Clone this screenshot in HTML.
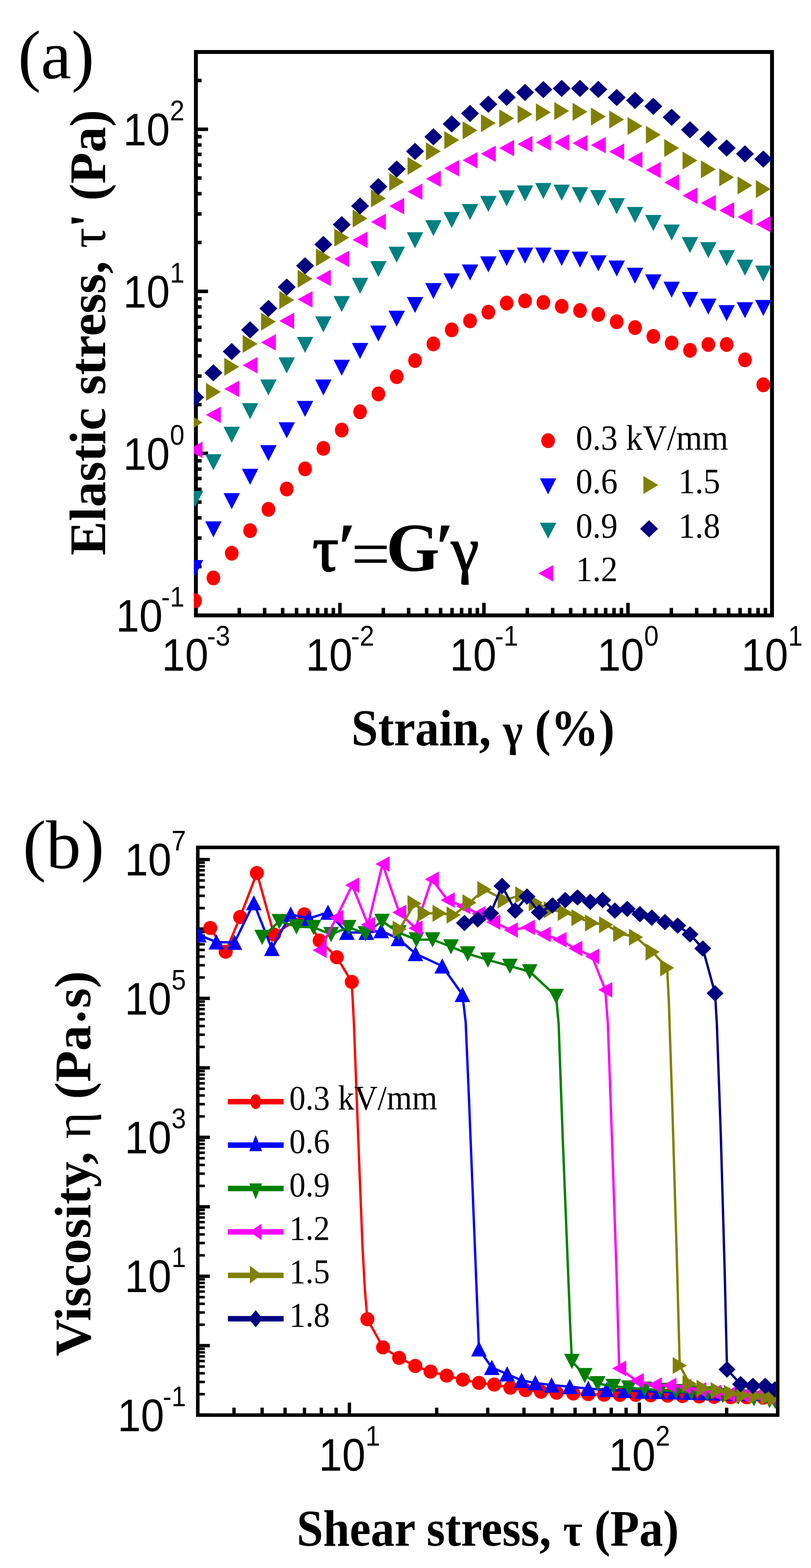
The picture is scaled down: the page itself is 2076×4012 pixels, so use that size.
<!DOCTYPE html>
<html><head><meta charset="utf-8"><title>Figure</title>
<style>html,body{margin:0;padding:0;background:#fff;width:2076px;height:4012px;}svg{display:block;}::-webkit-scrollbar{display:none;}</style>
</head><body>
<svg width="2076" height="4012" viewBox="0 0 2076 4012">
<rect width="2076" height="4012" fill="#fff"/>
<defs><clipPath id="ca"><rect x="496.5" y="128" width="1484.7" height="1451.6"/></clipPath><clipPath id="cb"><rect x="505.3" y="2172.7" width="1481" height="1443.6"/></clipPath></defs>
<text transform="translate(46 200)" font-family="'Liberation Serif', 'Times New Roman', serif" font-size="176" font-weight="normal" text-anchor="start">(a)</text>
<path d="M501.5 1574.6H532.5M501.5 1449.8H516M501.5 1376.8H516M501.5 1325H516M501.5 1284.8H516M501.5 1252H516M501.5 1224.2H516M501.5 1200.2H516M501.5 1179H516M501.5 1160H532.5M501.5 1035.2H516M501.5 962.2H516M501.5 910.4H516M501.5 870.2H516M501.5 837.4H516M501.5 809.6H516M501.5 785.6H516M501.5 764.4H516M501.5 745.4H532.5M501.5 620.6H516M501.5 547.6H516M501.5 495.8H516M501.5 455.6H516M501.5 422.8H516M501.5 395H516M501.5 371H516M501.5 349.8H516M501.5 330.8H532.5M501.5 206H516M501.5 1574.6V1542.6M612.5 1574.6V1555.6M677.4 1574.6V1555.6M723.5 1574.6V1555.6M759.2 1574.6V1555.6M788.4 1574.6V1555.6M813.1 1574.6V1555.6M834.4 1574.6V1555.6M853.3 1574.6V1555.6M870.2 1574.6V1542.6M981.2 1574.6V1555.6M1046.1 1574.6V1555.6M1092.1 1574.6V1555.6M1127.9 1574.6V1555.6M1157.1 1574.6V1555.6M1181.7 1574.6V1555.6M1203.1 1574.6V1555.6M1222 1574.6V1555.6M1238.8 1574.6V1542.6M1349.8 1574.6V1555.6M1414.8 1574.6V1555.6M1460.8 1574.6V1555.6M1496.5 1574.6V1555.6M1525.7 1574.6V1555.6M1550.4 1574.6V1555.6M1571.8 1574.6V1555.6M1590.7 1574.6V1555.6M1607.5 1574.6V1542.6M1718.5 1574.6V1555.6M1783.4 1574.6V1555.6M1829.5 1574.6V1555.6M1865.2 1574.6V1555.6M1894.4 1574.6V1555.6M1919.1 1574.6V1555.6M1940.5 1574.6V1555.6M1959.3 1574.6V1555.6M1976.2 1574.6V1542.6" stroke="#000" stroke-width="9" fill="none"/>
<rect x="501.5" y="133" width="1474.7" height="1441.6" fill="none" stroke="#000" stroke-width="10"/>
<text transform="translate(472 1616.1) scale(0.927 1)" font-family="'Liberation Sans', Arial, sans-serif" font-size="116" text-anchor="end">10<tspan font-size="72" dy="-64" dx="-4">-1</tspan></text>
<text transform="translate(472 1201.5) scale(0.927 1)" font-family="'Liberation Sans', Arial, sans-serif" font-size="116" text-anchor="end">10<tspan font-size="72" dy="-64">0</tspan></text>
<text transform="translate(472 786.9) scale(0.927 1)" font-family="'Liberation Sans', Arial, sans-serif" font-size="116" text-anchor="end">10<tspan font-size="72" dy="-64">1</tspan></text>
<text transform="translate(472 372.3) scale(0.927 1)" font-family="'Liberation Sans', Arial, sans-serif" font-size="116" text-anchor="end">10<tspan font-size="72" dy="-64">2</tspan></text>
<text transform="translate(501.5 1716.3) scale(0.927 1)" font-family="'Liberation Sans', Arial, sans-serif" font-size="116" text-anchor="middle">10<tspan font-size="72" dy="-64" dx="-4">-3</tspan></text>
<text transform="translate(870.2 1716.3) scale(0.927 1)" font-family="'Liberation Sans', Arial, sans-serif" font-size="116" text-anchor="middle">10<tspan font-size="72" dy="-64" dx="-4">-2</tspan></text>
<text transform="translate(1238.8 1716.3) scale(0.927 1)" font-family="'Liberation Sans', Arial, sans-serif" font-size="116" text-anchor="middle">10<tspan font-size="72" dy="-64" dx="-4">-1</tspan></text>
<text transform="translate(1607.5 1716.3) scale(0.927 1)" font-family="'Liberation Sans', Arial, sans-serif" font-size="116" text-anchor="middle">10<tspan font-size="72" dy="-64">0</tspan></text>
<text transform="translate(1976.2 1716.3) scale(0.927 1)" font-family="'Liberation Sans', Arial, sans-serif" font-size="116" text-anchor="middle">10<tspan font-size="72" dy="-64">1</tspan></text>
<text transform="translate(899.5 1907) scale(0.9284 1)" font-family="'Liberation Serif', 'Times New Roman', serif" font-size="132" font-weight="bold" text-anchor="start">Strain, <tspan font-size="117">&#947;</tspan> (%)</text>
<text transform="translate(268.5 1421) rotate(-90) scale(0.9910 1)" font-family="'Liberation Serif', 'Times New Roman', serif" font-size="132" font-weight="bold" text-anchor="start">Elastic stress, <tspan font-weight="normal">&#964;</tspan>' (Pa)</text>
<text y="1460" font-family="'Liberation Serif', 'Times New Roman', serif" font-size="176"><tspan x="800" font-size="166" stroke="#000" stroke-width="3.5">&#964;</tspan><tspan x="863.4" font-weight="bold">&#8242;</tspan><tspan x="899.2" y="1476">=</tspan><tspan x="988.6" y="1460" font-weight="bold">G</tspan><tspan x="1113.4" font-weight="bold">&#8242;</tspan><tspan x="1155" y="1461" font-size="160" stroke="#000" stroke-width="3">&#947;</tspan></text>
<g clip-path="url(#ca)">
<ellipse cx="499.4" cy="1537.3" rx="17.5" ry="19" fill="#ff0000"/>
<ellipse cx="546.3" cy="1478.8" rx="17.5" ry="19" fill="#ff0000"/>
<ellipse cx="593.2" cy="1415.6" rx="17.5" ry="19" fill="#ff0000"/>
<ellipse cx="640.2" cy="1357.8" rx="17.5" ry="19" fill="#ff0000"/>
<ellipse cx="687.1" cy="1303.2" rx="17.5" ry="19" fill="#ff0000"/>
<ellipse cx="734" cy="1251.3" rx="17.5" ry="19" fill="#ff0000"/>
<ellipse cx="780.9" cy="1199.8" rx="17.5" ry="19" fill="#ff0000"/>
<ellipse cx="827.8" cy="1147.2" rx="17.5" ry="19" fill="#ff0000"/>
<ellipse cx="874.8" cy="1100.4" rx="17.5" ry="19" fill="#ff0000"/>
<ellipse cx="921.7" cy="1053.6" rx="17.5" ry="19" fill="#ff0000"/>
<ellipse cx="968.6" cy="1007.9" rx="17.5" ry="19" fill="#ff0000"/>
<ellipse cx="1015.5" cy="963.7" rx="17.5" ry="19" fill="#ff0000"/>
<ellipse cx="1062.4" cy="922.5" rx="17.5" ry="19" fill="#ff0000"/>
<ellipse cx="1109.4" cy="880" rx="17.5" ry="19" fill="#ff0000"/>
<ellipse cx="1156.3" cy="844" rx="17.5" ry="19" fill="#ff0000"/>
<ellipse cx="1203.2" cy="821" rx="17.5" ry="19" fill="#ff0000"/>
<ellipse cx="1250.1" cy="798.7" rx="17.5" ry="19" fill="#ff0000"/>
<ellipse cx="1297" cy="775.6" rx="17.5" ry="19" fill="#ff0000"/>
<ellipse cx="1344" cy="769.8" rx="17.5" ry="19" fill="#ff0000"/>
<ellipse cx="1390.9" cy="773.9" rx="17.5" ry="19" fill="#ff0000"/>
<ellipse cx="1437.8" cy="783.8" rx="17.5" ry="19" fill="#ff0000"/>
<ellipse cx="1484.7" cy="794.6" rx="17.5" ry="19" fill="#ff0000"/>
<ellipse cx="1531.6" cy="804.5" rx="17.5" ry="19" fill="#ff0000"/>
<ellipse cx="1578.6" cy="823.3" rx="17.5" ry="19" fill="#ff0000"/>
<ellipse cx="1625.5" cy="838.3" rx="17.5" ry="19" fill="#ff0000"/>
<ellipse cx="1672.4" cy="860.8" rx="17.5" ry="19" fill="#ff0000"/>
<ellipse cx="1719.3" cy="877.7" rx="17.5" ry="19" fill="#ff0000"/>
<ellipse cx="1766.2" cy="896.4" rx="17.5" ry="19" fill="#ff0000"/>
<ellipse cx="1813.2" cy="881.4" rx="17.5" ry="19" fill="#ff0000"/>
<ellipse cx="1860.1" cy="881.4" rx="17.5" ry="19" fill="#ff0000"/>
<ellipse cx="1907" cy="920.8" rx="17.5" ry="19" fill="#ff0000"/>
<ellipse cx="1953.9" cy="984.6" rx="17.5" ry="19" fill="#ff0000"/>
<polygon points="478.4,1433 520.4,1433 499.4,1474" fill="#0000ff"/>
<polygon points="525.3,1334 567.3,1334 546.3,1375" fill="#0000ff"/>
<polygon points="572.2,1261.8 614.2,1261.8 593.2,1302.8" fill="#0000ff"/>
<polygon points="619.2,1199.4 661.2,1199.4 640.2,1240.4" fill="#0000ff"/>
<polygon points="666.1,1138.9 708.1,1138.9 687.1,1179.9" fill="#0000ff"/>
<polygon points="713,1080.4 755,1080.4 734,1121.4" fill="#0000ff"/>
<polygon points="759.9,1025.8 801.9,1025.8 780.9,1066.8" fill="#0000ff"/>
<polygon points="806.8,971.1 848.8,971.1 827.8,1012.1" fill="#0000ff"/>
<polygon points="853.8,920.4 895.8,920.4 874.8,961.4" fill="#0000ff"/>
<polygon points="900.7,877.5 942.7,877.5 921.7,918.5" fill="#0000ff"/>
<polygon points="947.6,833 989.6,833 968.6,874" fill="#0000ff"/>
<polygon points="994.5,795 1036.5,795 1015.5,836" fill="#0000ff"/>
<polygon points="1041.4,760 1083.4,760 1062.4,801" fill="#0000ff"/>
<polygon points="1088.4,724.2 1130.4,724.2 1109.4,765.2" fill="#0000ff"/>
<polygon points="1135.3,699.4 1177.3,699.4 1156.3,740.4" fill="#0000ff"/>
<polygon points="1182.2,676.7 1224.2,676.7 1203.2,717.7" fill="#0000ff"/>
<polygon points="1229.1,656 1271.1,656 1250.1,697" fill="#0000ff"/>
<polygon points="1276,639.6 1318,639.6 1297,680.6" fill="#0000ff"/>
<polygon points="1323,633.4 1365,633.4 1344,674.4" fill="#0000ff"/>
<polygon points="1369.9,633.4 1411.9,633.4 1390.9,674.4" fill="#0000ff"/>
<polygon points="1416.8,639.6 1458.8,639.6 1437.8,680.6" fill="#0000ff"/>
<polygon points="1463.7,643.7 1505.7,643.7 1484.7,684.7" fill="#0000ff"/>
<polygon points="1510.6,653.2 1552.6,653.2 1531.6,694.2" fill="#0000ff"/>
<polygon points="1557.6,666.4 1599.6,666.4 1578.6,707.4" fill="#0000ff"/>
<polygon points="1604.5,685.1 1646.5,685.1 1625.5,726.1" fill="#0000ff"/>
<polygon points="1651.4,702 1693.4,702 1672.4,743" fill="#0000ff"/>
<polygon points="1698.3,720.8 1740.3,720.8 1719.3,761.8" fill="#0000ff"/>
<polygon points="1745.2,747 1787.2,747 1766.2,788" fill="#0000ff"/>
<polygon points="1792.2,763.9 1834.2,763.9 1813.2,804.9" fill="#0000ff"/>
<polygon points="1839.1,780.8 1881.1,780.8 1860.1,821.8" fill="#0000ff"/>
<polygon points="1886,773.3 1928,773.3 1907,814.3" fill="#0000ff"/>
<polygon points="1932.9,767.6 1974.9,767.6 1953.9,808.6" fill="#0000ff"/>
<polygon points="478.4,1256 520.4,1256 499.4,1297" fill="#008080"/>
<polygon points="525.3,1162.3 567.3,1162.3 546.3,1203.3" fill="#008080"/>
<polygon points="572.2,1092 614.2,1092 593.2,1133" fill="#008080"/>
<polygon points="619.2,1031.6 661.2,1031.6 640.2,1072.6" fill="#008080"/>
<polygon points="666.1,971.1 708.1,971.1 687.1,1012.1" fill="#008080"/>
<polygon points="713,914.6 755,914.6 734,955.6" fill="#008080"/>
<polygon points="759.9,861.9 801.9,861.9 780.9,902.9" fill="#008080"/>
<polygon points="806.8,809.5 848.8,809.5 827.8,850.5" fill="#008080"/>
<polygon points="853.8,757.6 895.8,757.6 874.8,798.6" fill="#008080"/>
<polygon points="900.7,710.7 942.7,710.7 921.7,751.7" fill="#008080"/>
<polygon points="947.6,668 989.6,668 968.6,709" fill="#008080"/>
<polygon points="994.5,631.3 1036.5,631.3 1015.5,672.3" fill="#008080"/>
<polygon points="1041.4,594.2 1083.4,594.2 1062.4,635.2" fill="#008080"/>
<polygon points="1088.4,563.2 1130.4,563.2 1109.4,604.2" fill="#008080"/>
<polygon points="1135.3,542.6 1177.3,542.6 1156.3,583.6" fill="#008080"/>
<polygon points="1182.2,522 1224.2,522 1203.2,563" fill="#008080"/>
<polygon points="1229.1,501.3 1271.1,501.3 1250.1,542.3" fill="#008080"/>
<polygon points="1276,486.9 1318,486.9 1297,527.9" fill="#008080"/>
<polygon points="1323,474.5 1365,474.5 1344,515.5" fill="#008080"/>
<polygon points="1369.9,468.3 1411.9,468.3 1390.9,509.3" fill="#008080"/>
<polygon points="1416.8,472.5 1458.8,472.5 1437.8,513.5" fill="#008080"/>
<polygon points="1463.7,478.7 1505.7,478.7 1484.7,519.7" fill="#008080"/>
<polygon points="1510.6,486.3 1552.6,486.3 1531.6,527.3" fill="#008080"/>
<polygon points="1557.6,507 1599.6,507 1578.6,548" fill="#008080"/>
<polygon points="1604.5,529.5 1646.5,529.5 1625.5,570.5" fill="#008080"/>
<polygon points="1651.4,550.1 1693.4,550.1 1672.4,591.1" fill="#008080"/>
<polygon points="1698.3,574.5 1740.3,574.5 1719.3,615.5" fill="#008080"/>
<polygon points="1745.2,606.4 1787.2,606.4 1766.2,647.4" fill="#008080"/>
<polygon points="1792.2,619.5 1834.2,619.5 1813.2,660.5" fill="#008080"/>
<polygon points="1839.1,640.1 1881.1,640.1 1860.1,681.1" fill="#008080"/>
<polygon points="1886,664.5 1928,664.5 1907,705.5" fill="#008080"/>
<polygon points="1932.9,679.5 1974.9,679.5 1953.9,720.5" fill="#008080"/>
<polygon points="518.4,1130 518.4,1172 480.4,1151" fill="#ff00ff"/>
<polygon points="565.3,1040.4 565.3,1082.4 527.3,1061.4" fill="#ff00ff"/>
<polygon points="612.2,974 612.2,1016 574.2,995" fill="#ff00ff"/>
<polygon points="659.2,913.6 659.2,955.6 621.2,934.6" fill="#ff00ff"/>
<polygon points="706.1,855 706.1,897 668.1,876" fill="#ff00ff"/>
<polygon points="753,800 753,842 715,821" fill="#ff00ff"/>
<polygon points="799.9,744.9 799.9,786.9 761.9,765.9" fill="#ff00ff"/>
<polygon points="846.8,690.2 846.8,732.2 808.8,711.2" fill="#ff00ff"/>
<polygon points="893.8,641.5 893.8,683.5 855.8,662.5" fill="#ff00ff"/>
<polygon points="940.7,592.7 940.7,634.7 902.7,613.7" fill="#ff00ff"/>
<polygon points="987.6,546.8 987.6,588.8 949.6,567.8" fill="#ff00ff"/>
<polygon points="1034.5,506.5 1034.5,548.5 996.5,527.5" fill="#ff00ff"/>
<polygon points="1081.4,469.4 1081.4,511.4 1043.4,490.4" fill="#ff00ff"/>
<polygon points="1128.4,436.4 1128.4,478.4 1090.4,457.4" fill="#ff00ff"/>
<polygon points="1175.3,409.6 1175.3,451.6 1137.3,430.6" fill="#ff00ff"/>
<polygon points="1222.2,389 1222.2,431 1184.2,410" fill="#ff00ff"/>
<polygon points="1269.1,372.4 1269.1,414.4 1231.1,393.4" fill="#ff00ff"/>
<polygon points="1316,358 1316,400 1278,379" fill="#ff00ff"/>
<polygon points="1363,347.7 1363,389.7 1325,368.7" fill="#ff00ff"/>
<polygon points="1409.9,343.6 1409.9,385.6 1371.9,364.6" fill="#ff00ff"/>
<polygon points="1456.8,343.6 1456.8,385.6 1418.8,364.6" fill="#ff00ff"/>
<polygon points="1503.7,345.6 1503.7,387.6 1465.7,366.6" fill="#ff00ff"/>
<polygon points="1550.6,350.3 1550.6,392.3 1512.6,371.3" fill="#ff00ff"/>
<polygon points="1597.6,367.2 1597.6,409.2 1559.6,388.2" fill="#ff00ff"/>
<polygon points="1644.5,387.8 1644.5,429.8 1606.5,408.8" fill="#ff00ff"/>
<polygon points="1691.4,414.1 1691.4,456.1 1653.4,435.1" fill="#ff00ff"/>
<polygon points="1738.3,445.9 1738.3,487.9 1700.3,466.9" fill="#ff00ff"/>
<polygon points="1785.2,479.7 1785.2,521.7 1747.2,500.7" fill="#ff00ff"/>
<polygon points="1832.2,498.5 1832.2,540.5 1794.2,519.5" fill="#ff00ff"/>
<polygon points="1879.1,517.2 1879.1,559.2 1841.1,538.2" fill="#ff00ff"/>
<polygon points="1926,534.1 1926,576.1 1888,555.1" fill="#ff00ff"/>
<polygon points="1972.9,552.8 1972.9,594.8 1934.9,573.8" fill="#ff00ff"/>
<polygon points="480.4,1057.9 480.4,1103.9 518.4,1080.9" fill="#808000"/>
<polygon points="527.3,979.8 527.3,1025.8 565.3,1002.8" fill="#808000"/>
<polygon points="574.2,915.5 574.2,961.5 612.2,938.5" fill="#808000"/>
<polygon points="621.2,857 621.2,903 659.2,880" fill="#808000"/>
<polygon points="668.1,799.9 668.1,845.9 706.1,822.9" fill="#808000"/>
<polygon points="715,744.8 715,790.8 753,767.8" fill="#808000"/>
<polygon points="761.9,690.2 761.9,736.2 799.9,713.2" fill="#808000"/>
<polygon points="808.8,635.6 808.8,681.6 846.8,658.6" fill="#808000"/>
<polygon points="855.8,584.9 855.8,630.9 893.8,607.9" fill="#808000"/>
<polygon points="902.7,536.1 902.7,582.1 940.7,559.1" fill="#808000"/>
<polygon points="949.6,484.6 949.6,530.6 987.6,507.6" fill="#808000"/>
<polygon points="996.5,442.6 996.5,488.6 1034.5,465.6" fill="#808000"/>
<polygon points="1043.4,401.4 1043.4,447.4 1081.4,424.4" fill="#808000"/>
<polygon points="1090.4,364.2 1090.4,410.2 1128.4,387.2" fill="#808000"/>
<polygon points="1137.3,335.4 1137.3,381.4 1175.3,358.4" fill="#808000"/>
<polygon points="1184.2,310.6 1184.2,356.6 1222.2,333.6" fill="#808000"/>
<polygon points="1231.1,292 1231.1,338 1269.1,315" fill="#808000"/>
<polygon points="1278,279.7 1278,325.7 1316,302.7" fill="#808000"/>
<polygon points="1325,269.3 1325,315.3 1363,292.3" fill="#808000"/>
<polygon points="1371.9,264.4 1371.9,310.4 1409.9,287.4" fill="#808000"/>
<polygon points="1418.8,261.1 1418.8,307.1 1456.8,284.1" fill="#808000"/>
<polygon points="1465.7,263 1465.7,309 1503.7,286" fill="#808000"/>
<polygon points="1512.6,275.2 1512.6,321.2 1550.6,298.2" fill="#808000"/>
<polygon points="1559.6,282.7 1559.6,328.7 1597.6,305.7" fill="#808000"/>
<polygon points="1606.5,299.5 1606.5,345.5 1644.5,322.5" fill="#808000"/>
<polygon points="1653.4,322 1653.4,368 1691.4,345" fill="#808000"/>
<polygon points="1700.3,355.8 1700.3,401.8 1738.3,378.8" fill="#808000"/>
<polygon points="1747.2,387.7 1747.2,433.7 1785.2,410.7" fill="#808000"/>
<polygon points="1794.2,410.2 1794.2,456.2 1832.2,433.2" fill="#808000"/>
<polygon points="1841.1,430.8 1841.1,476.8 1879.1,453.8" fill="#808000"/>
<polygon points="1888,451.4 1888,497.4 1926,474.4" fill="#808000"/>
<polygon points="1934.9,460.8 1934.9,506.8 1972.9,483.8" fill="#808000"/>
<polygon points="499.4,994.5 522.4,1016.5 499.4,1038.5 476.4,1016.5" fill="#000080"/>
<polygon points="546.3,932 569.3,954 546.3,976 523.3,954" fill="#000080"/>
<polygon points="593.2,877.5 616.2,899.5 593.2,921.5 570.2,899.5" fill="#000080"/>
<polygon points="640.2,822 663.2,844 640.2,866 617.2,844" fill="#000080"/>
<polygon points="687.1,767.3 710.1,789.3 687.1,811.3 664.1,789.3" fill="#000080"/>
<polygon points="734,712.6 757,734.6 734,756.6 711,734.6" fill="#000080"/>
<polygon points="780.9,658 803.9,680 780.9,702 757.9,680" fill="#000080"/>
<polygon points="827.8,603.4 850.8,625.4 827.8,647.4 804.8,625.4" fill="#000080"/>
<polygon points="874.8,552.7 897.8,574.7 874.8,596.7 851.8,574.7" fill="#000080"/>
<polygon points="921.7,505.1 944.7,527.1 921.7,549.1 898.7,527.1" fill="#000080"/>
<polygon points="968.6,455.6 991.6,477.6 968.6,499.6 945.6,477.6" fill="#000080"/>
<polygon points="1015.5,410.6 1038.5,432.6 1015.5,454.6 992.5,432.6" fill="#000080"/>
<polygon points="1062.4,365.2 1085.4,387.2 1062.4,409.2 1039.4,387.2" fill="#000080"/>
<polygon points="1109.4,328.1 1132.4,350.1 1109.4,372.1 1086.4,350.1" fill="#000080"/>
<polygon points="1156.3,295.1 1179.3,317.1 1156.3,339.1 1133.3,317.1" fill="#000080"/>
<polygon points="1203.2,268.3 1226.2,290.3 1203.2,312.3 1180.2,290.3" fill="#000080"/>
<polygon points="1250.1,244.8 1273.1,266.8 1250.1,288.8 1227.1,266.8" fill="#000080"/>
<polygon points="1297,227 1320,249 1297,271 1274,249" fill="#000080"/>
<polygon points="1344,214.6 1367,236.6 1344,258.6 1321,236.6" fill="#000080"/>
<polygon points="1390.9,207.2 1413.9,229.2 1390.9,251.2 1367.9,229.2" fill="#000080"/>
<polygon points="1437.8,204.3 1460.8,226.3 1437.8,248.3 1414.8,226.3" fill="#000080"/>
<polygon points="1484.7,204.3 1507.7,226.3 1484.7,248.3 1461.7,226.3" fill="#000080"/>
<polygon points="1531.6,206.8 1554.6,228.8 1531.6,250.8 1508.6,228.8" fill="#000080"/>
<polygon points="1578.6,227.4 1601.6,249.4 1578.6,271.4 1555.6,249.4" fill="#000080"/>
<polygon points="1625.5,234.9 1648.5,256.9 1625.5,278.9 1602.5,256.9" fill="#000080"/>
<polygon points="1672.4,249.9 1695.4,271.9 1672.4,293.9 1649.4,271.9" fill="#000080"/>
<polygon points="1719.3,278 1742.3,300 1719.3,322 1696.3,300" fill="#000080"/>
<polygon points="1766.2,309.9 1789.2,331.9 1766.2,353.9 1743.2,331.9" fill="#000080"/>
<polygon points="1813.2,334.3 1836.2,356.3 1813.2,378.3 1790.2,356.3" fill="#000080"/>
<polygon points="1860.1,356.8 1883.1,378.8 1860.1,400.8 1837.1,378.8" fill="#000080"/>
<polygon points="1907,371.8 1930,393.8 1907,415.8 1884,393.8" fill="#000080"/>
<polygon points="1953.9,384.9 1976.9,406.9 1953.9,428.9 1930.9,406.9" fill="#000080"/>
</g>
<ellipse cx="1403" cy="1127.6" rx="17.5" ry="19" fill="#ff0000"/>
<polygon points="1382,1224 1424,1224 1403,1265" fill="#0000ff"/>
<polygon points="1382,1337.6 1424,1337.6 1403,1378.6" fill="#008080"/>
<polygon points="1416,1446 1416,1488 1378,1467" fill="#ff00ff"/>
<polygon points="1647,1218 1647,1264 1685,1241" fill="#808000"/>
<polygon points="1661.5,1331 1684.5,1353 1661.5,1375 1638.5,1353" fill="#000080"/>
<text transform="translate(1474 1150.5) scale(0.9310 1)" font-family="'Liberation Serif', 'Times New Roman', serif" font-size="92" font-weight="normal" text-anchor="start">0.3 kV/mm</text>
<text transform="translate(1474 1262) scale(0.9310 1)" font-family="'Liberation Serif', 'Times New Roman', serif" font-size="92" font-weight="normal" text-anchor="start">0.6</text>
<text transform="translate(1474 1375.5) scale(0.9310 1)" font-family="'Liberation Serif', 'Times New Roman', serif" font-size="92" font-weight="normal" text-anchor="start">0.9</text>
<text transform="translate(1474 1487.4) scale(0.9310 1)" font-family="'Liberation Serif', 'Times New Roman', serif" font-size="92" font-weight="normal" text-anchor="start">1.2</text>
<text transform="translate(1736.5 1262) scale(0.9310 1)" font-family="'Liberation Serif', 'Times New Roman', serif" font-size="92" font-weight="normal" text-anchor="start">1.5</text>
<text transform="translate(1736.5 1375.5) scale(0.9310 1)" font-family="'Liberation Serif', 'Times New Roman', serif" font-size="92" font-weight="normal" text-anchor="start">1.8</text>
<text transform="translate(58.2 2221.3) scale(1.0170 1)" font-family="'Liberation Serif', 'Times New Roman', serif" font-size="176" font-weight="normal" text-anchor="start">(b)</text>
<path d="M506.3 3620.8H537.3M506.3 3443.1H537.3M506.3 3265.4H537.3M506.3 3087.7H537.3M506.3 2910H537.3M506.3 2732.3H537.3M506.3 2554.6H537.3M506.3 2376.9H537.3M506.3 2199.2H537.3M599 3620.8V3601.8M671 3620.8V3601.8M729.7 3620.8V3601.8M779.4 3620.8V3601.8M822.5 3620.8V3601.8M860.4 3620.8V3601.8M1117.8 3620.8V3601.8M1248.5 3620.8V3601.8M1341.3 3620.8V3601.8M1413.2 3620.8V3601.8M1472 3620.8V3601.8M1521.7 3620.8V3601.8M1564.7 3620.8V3601.8M1602.7 3620.8V3601.8M1860.1 3620.8V3601.8M894.4 3620.8V3588.8M1636.7 3620.8V3588.8" stroke="#000" stroke-width="8.5" fill="none"/>
<path d="M506.3 3567.3H524.3M506.3 3536H524.3M506.3 3513.8H524.3M506.3 3496.6H524.3M506.3 3482.5H524.3M506.3 3470.6H524.3M506.3 3460.3H524.3M506.3 3451.2H524.3M506.3 3389.6H524.3M506.3 3358.3H524.3M506.3 3336.1H524.3M506.3 3318.9H524.3M506.3 3304.8H524.3M506.3 3292.9H524.3M506.3 3282.6H524.3M506.3 3273.5H524.3M506.3 3211.9H524.3M506.3 3180.6H524.3M506.3 3158.4H524.3M506.3 3141.2H524.3M506.3 3127.1H524.3M506.3 3115.2H524.3M506.3 3104.9H524.3M506.3 3095.8H524.3M506.3 3034.2H524.3M506.3 3002.9H524.3M506.3 2980.7H524.3M506.3 2963.5H524.3M506.3 2949.4H524.3M506.3 2937.5H524.3M506.3 2927.2H524.3M506.3 2918.1H524.3M506.3 2856.5H524.3M506.3 2825.2H524.3M506.3 2803H524.3M506.3 2785.8H524.3M506.3 2771.7H524.3M506.3 2759.8H524.3M506.3 2749.5H524.3M506.3 2740.4H524.3M506.3 2678.8H524.3M506.3 2647.5H524.3M506.3 2625.3H524.3M506.3 2608.1H524.3M506.3 2594H524.3M506.3 2582.1H524.3M506.3 2571.8H524.3M506.3 2562.7H524.3M506.3 2501.1H524.3M506.3 2469.8H524.3M506.3 2447.6H524.3M506.3 2430.4H524.3M506.3 2416.3H524.3M506.3 2404.4H524.3M506.3 2394.1H524.3M506.3 2385H524.3M506.3 2323.4H524.3M506.3 2292.1H524.3M506.3 2269.9H524.3M506.3 2252.7H524.3M506.3 2238.6H524.3M506.3 2226.7H524.3M506.3 2216.4H524.3M506.3 2207.3H524.3" stroke="#000" stroke-width="6.5" fill="none"/>
<rect x="506.3" y="2168.2" width="1484.5" height="1452.6" fill="none" stroke="#000" stroke-width="9"/>
<text transform="translate(476 3661.8) scale(0.927 1)" font-family="'Liberation Sans', Arial, sans-serif" font-size="116" text-anchor="end">10<tspan font-size="72" dy="-64" dx="-4">-1</tspan></text>
<text transform="translate(476 3306.4) scale(0.927 1)" font-family="'Liberation Sans', Arial, sans-serif" font-size="116" text-anchor="end">10<tspan font-size="72" dy="-64">1</tspan></text>
<text transform="translate(476 2951) scale(0.927 1)" font-family="'Liberation Sans', Arial, sans-serif" font-size="116" text-anchor="end">10<tspan font-size="72" dy="-64">3</tspan></text>
<text transform="translate(476 2595.6) scale(0.927 1)" font-family="'Liberation Sans', Arial, sans-serif" font-size="116" text-anchor="end">10<tspan font-size="72" dy="-64">5</tspan></text>
<text transform="translate(476 2240.2) scale(0.927 1)" font-family="'Liberation Sans', Arial, sans-serif" font-size="116" text-anchor="end">10<tspan font-size="72" dy="-64">7</tspan></text>
<text transform="translate(894.4 3762.6) scale(0.927 1)" font-family="'Liberation Sans', Arial, sans-serif" font-size="116" text-anchor="middle">10<tspan font-size="72" dy="-64">1</tspan></text>
<text transform="translate(1636.7 3762.6) scale(0.927 1)" font-family="'Liberation Sans', Arial, sans-serif" font-size="116" text-anchor="middle">10<tspan font-size="72" dy="-64">2</tspan></text>
<text transform="translate(759.5 3955) scale(0.9222 1)" font-family="'Liberation Serif', 'Times New Roman', serif" font-size="132" font-weight="bold" text-anchor="start">Shear stress, <tspan font-size="117">&#964;</tspan> (Pa)</text>
<text transform="translate(231 3470.3) rotate(-90) scale(0.9940 1)" font-family="'Liberation Serif', 'Times New Roman', serif" font-size="132" font-weight="bold" text-anchor="start">Viscosity, <tspan font-weight="normal">&#951;</tspan> (Pa<tspan dy="21">&#183;</tspan><tspan dy="-21">s</tspan>)</text>
<g clip-path="url(#cb)">
<polyline points="538.3,2374.4 577.6,2435.2 614.8,2346.3 657.6,2233.8 701.4,2391.3 779.1,2339.5 818.3,2406.6 862.2,2449.3 900.4,2512.4 906,2620 912,2780 920,2990 928,3190 934,3300 940.4,3375.4 980.5,3447.6 1021.7,3474.4 1063,3495 1102.2,3509.5 1143.4,3519.8 1184.7,3530.1 1226,3538.4 1265.2,3542.5 1306.4,3550.7 1345.6,3556.9 1384.8,3561.1 1424.8,3563.5 1467.5,3565.5 1505.8,3567 1546.3,3568.5 1586.8,3569 1627.3,3569 1665.6,3570 1709,3571 1747,3572 1790,3573 1828,3574 1871,3575 1911,3575 1954,3576 1983,3576" fill="none" stroke="#ff0000" stroke-width="6" stroke-linejoin="round"/>
<circle cx="538.3" cy="2374.4" r="18" fill="#ff0000"/>
<circle cx="577.6" cy="2435.2" r="18" fill="#ff0000"/>
<circle cx="614.8" cy="2346.3" r="18" fill="#ff0000"/>
<circle cx="657.6" cy="2233.8" r="18" fill="#ff0000"/>
<circle cx="701.4" cy="2391.3" r="18" fill="#ff0000"/>
<circle cx="779.1" cy="2339.5" r="18" fill="#ff0000"/>
<circle cx="818.3" cy="2406.6" r="18" fill="#ff0000"/>
<circle cx="862.2" cy="2449.3" r="18" fill="#ff0000"/>
<circle cx="900.4" cy="2512.4" r="18" fill="#ff0000"/>
<circle cx="940.4" cy="3375.4" r="18" fill="#ff0000"/>
<circle cx="980.5" cy="3447.6" r="18" fill="#ff0000"/>
<circle cx="1021.7" cy="3474.4" r="18" fill="#ff0000"/>
<circle cx="1063" cy="3495" r="18" fill="#ff0000"/>
<circle cx="1102.2" cy="3509.5" r="18" fill="#ff0000"/>
<circle cx="1143.4" cy="3519.8" r="18" fill="#ff0000"/>
<circle cx="1184.7" cy="3530.1" r="18" fill="#ff0000"/>
<circle cx="1226" cy="3538.4" r="18" fill="#ff0000"/>
<circle cx="1265.2" cy="3542.5" r="18" fill="#ff0000"/>
<circle cx="1306.4" cy="3550.7" r="18" fill="#ff0000"/>
<circle cx="1345.6" cy="3556.9" r="18" fill="#ff0000"/>
<circle cx="1384.8" cy="3561.1" r="18" fill="#ff0000"/>
<circle cx="1424.8" cy="3563.5" r="18" fill="#ff0000"/>
<circle cx="1467.5" cy="3565.5" r="18" fill="#ff0000"/>
<circle cx="1505.8" cy="3567" r="18" fill="#ff0000"/>
<circle cx="1546.3" cy="3568.5" r="18" fill="#ff0000"/>
<circle cx="1586.8" cy="3569" r="18" fill="#ff0000"/>
<circle cx="1627.3" cy="3569" r="18" fill="#ff0000"/>
<circle cx="1665.6" cy="3570" r="18" fill="#ff0000"/>
<circle cx="1709" cy="3571" r="18" fill="#ff0000"/>
<circle cx="1747" cy="3572" r="18" fill="#ff0000"/>
<circle cx="1790" cy="3573" r="18" fill="#ff0000"/>
<circle cx="1828" cy="3574" r="18" fill="#ff0000"/>
<circle cx="1871" cy="3575" r="18" fill="#ff0000"/>
<circle cx="1911" cy="3575" r="18" fill="#ff0000"/>
<circle cx="1954" cy="3576" r="18" fill="#ff0000"/>
<circle cx="1983" cy="3576" r="18" fill="#ff0000"/>
<polyline points="509,2392.4 554,2410.4 600.2,2411.6 649.7,2310.3 695.8,2427.3 744.2,2339.5 790.3,2350 839.6,2334.6 888,2386 937.6,2386 975.8,2381.8 1020,2402 1063.6,2440.3 1132,2471.9 1183.8,2545 1192,2615 1200,2800 1212,3100 1220,3300 1226,3451.7 1259,3499.2 1298.2,3515.7 1335.3,3532.2 1370.4,3538.4 1412,3544 1458.5,3548 1505.8,3553 1553,3556 1599,3558 1645,3560 1685,3561 1725,3562 1765,3563 1805,3564 1845,3565 1885,3566 1925,3566 1965,3567 1984,3567" fill="none" stroke="#0000ff" stroke-width="6" stroke-linejoin="round"/>
<polygon points="489.1,2411.4 529,2411.4 509,2372.5" fill="#0000ff"/>
<polygon points="534,2429.4 574,2429.4 554,2390.5" fill="#0000ff"/>
<polygon points="580.2,2430.6 620.2,2430.6 600.2,2391.7" fill="#0000ff"/>
<polygon points="629.8,2329.3 669.7,2329.3 649.7,2290.4" fill="#0000ff"/>
<polygon points="675.8,2446.3 715.8,2446.3 695.8,2407.4" fill="#0000ff"/>
<polygon points="724.2,2358.5 764.2,2358.5 744.2,2319.6" fill="#0000ff"/>
<polygon points="770.3,2369 810.2,2369 790.3,2330.1" fill="#0000ff"/>
<polygon points="819.6,2353.6 859.6,2353.6 839.6,2314.7" fill="#0000ff"/>
<polygon points="868,2405 908,2405 888,2366.1" fill="#0000ff"/>
<polygon points="917.6,2405 957.6,2405 937.6,2366.1" fill="#0000ff"/>
<polygon points="955.8,2400.8 995.8,2400.8 975.8,2361.9" fill="#0000ff"/>
<polygon points="1000,2421 1040,2421 1020,2382.1" fill="#0000ff"/>
<polygon points="1043.6,2459.3 1083.5,2459.3 1063.6,2420.4" fill="#0000ff"/>
<polygon points="1112,2490.9 1152,2490.9 1132,2452" fill="#0000ff"/>
<polygon points="1163.8,2564 1203.8,2564 1183.8,2525.1" fill="#0000ff"/>
<polygon points="1206,3470.7 1246,3470.7 1226,3431.8" fill="#0000ff"/>
<polygon points="1239,3518.2 1279,3518.2 1259,3479.2" fill="#0000ff"/>
<polygon points="1278.2,3534.7 1318.2,3534.7 1298.2,3495.8" fill="#0000ff"/>
<polygon points="1315.3,3551.2 1355.2,3551.2 1335.3,3512.2" fill="#0000ff"/>
<polygon points="1350.5,3557.4 1390.4,3557.4 1370.4,3518.5" fill="#0000ff"/>
<polygon points="1392,3563 1432,3563 1412,3524.1" fill="#0000ff"/>
<polygon points="1438.5,3567 1478.5,3567 1458.5,3528.1" fill="#0000ff"/>
<polygon points="1485.8,3572 1525.8,3572 1505.8,3533.1" fill="#0000ff"/>
<polygon points="1533,3575 1573,3575 1553,3536.1" fill="#0000ff"/>
<polygon points="1579,3577 1619,3577 1599,3538.1" fill="#0000ff"/>
<polygon points="1625,3579 1665,3579 1645,3540.1" fill="#0000ff"/>
<polygon points="1665,3580 1705,3580 1685,3541.1" fill="#0000ff"/>
<polygon points="1705,3581 1745,3581 1725,3542.1" fill="#0000ff"/>
<polygon points="1745,3582 1785,3582 1765,3543.1" fill="#0000ff"/>
<polygon points="1785,3583 1825,3583 1805,3544.1" fill="#0000ff"/>
<polygon points="1825,3584 1865,3584 1845,3545.1" fill="#0000ff"/>
<polygon points="1865,3585 1905,3585 1885,3546.1" fill="#0000ff"/>
<polygon points="1905,3585 1945,3585 1925,3546.1" fill="#0000ff"/>
<polygon points="1945,3586 1985,3586 1965,3547.1" fill="#0000ff"/>
<polygon points="1964,3586 2004,3586 1984,3547.1" fill="#0000ff"/>
<polyline points="671,2398 715,2357.5 758.8,2371 802.5,2372.8 847.5,2390.8 892.5,2372.8 935.3,2388.6 978,2357 1020.8,2386.3 1065.8,2404.3 1107.3,2404.3 1154.5,2422.3 1197.3,2440.3 1249,2456 1305.3,2471.9 1356,2486 1423.5,2549 1430,2620 1440,2900 1452,3200 1460,3400 1464,3483 1496.8,3519.3 1530,3540 1570,3547 1610,3551 1650,3554 1690,3557 1730,3560 1770,3563 1810,3566 1850,3570 1890,3574 1930,3578 1970,3583 1984,3585" fill="none" stroke="#008000" stroke-width="6" stroke-linejoin="round"/>
<polygon points="651,2379 691,2379 671,2417.9" fill="#008000"/>
<polygon points="695,2338.5 735,2338.5 715,2377.4" fill="#008000"/>
<polygon points="738.8,2352 778.8,2352 758.8,2390.9" fill="#008000"/>
<polygon points="782.5,2353.8 822.5,2353.8 802.5,2392.8" fill="#008000"/>
<polygon points="827.5,2371.8 867.5,2371.8 847.5,2410.8" fill="#008000"/>
<polygon points="872.5,2353.8 912.5,2353.8 892.5,2392.8" fill="#008000"/>
<polygon points="915.3,2369.6 955.2,2369.6 935.3,2408.5" fill="#008000"/>
<polygon points="958,2338 998,2338 978,2376.9" fill="#008000"/>
<polygon points="1000.8,2367.3 1040.8,2367.3 1020.8,2406.2" fill="#008000"/>
<polygon points="1045.8,2385.3 1085.8,2385.3 1065.8,2424.2" fill="#008000"/>
<polygon points="1087.3,2385.3 1127.2,2385.3 1107.3,2424.2" fill="#008000"/>
<polygon points="1134.5,2403.3 1174.5,2403.3 1154.5,2442.2" fill="#008000"/>
<polygon points="1177.3,2421.3 1217.2,2421.3 1197.3,2460.2" fill="#008000"/>
<polygon points="1229,2437 1269,2437 1249,2475.9" fill="#008000"/>
<polygon points="1285.3,2452.9 1325.2,2452.9 1305.3,2491.8" fill="#008000"/>
<polygon points="1336,2467 1376,2467 1356,2505.9" fill="#008000"/>
<polygon points="1403.5,2530 1443.5,2530 1423.5,2568.9" fill="#008000"/>
<polygon points="1444,3464 1484,3464 1464,3502.9" fill="#008000"/>
<polygon points="1476.8,3500.3 1516.8,3500.3 1496.8,3539.2" fill="#008000"/>
<polygon points="1510,3521 1550,3521 1530,3559.9" fill="#008000"/>
<polygon points="1550,3528 1590,3528 1570,3566.9" fill="#008000"/>
<polygon points="1590,3532 1630,3532 1610,3570.9" fill="#008000"/>
<polygon points="1630,3535 1670,3535 1650,3573.9" fill="#008000"/>
<polygon points="1670,3538 1710,3538 1690,3576.9" fill="#008000"/>
<polygon points="1710,3541 1750,3541 1730,3579.9" fill="#008000"/>
<polygon points="1750,3544 1790,3544 1770,3582.9" fill="#008000"/>
<polygon points="1790,3547 1830,3547 1810,3585.9" fill="#008000"/>
<polygon points="1830,3551 1870,3551 1850,3589.9" fill="#008000"/>
<polygon points="1870,3555 1910,3555 1890,3593.9" fill="#008000"/>
<polygon points="1910,3559 1950,3559 1930,3597.9" fill="#008000"/>
<polygon points="1950,3564 1990,3564 1970,3602.9" fill="#008000"/>
<polygon points="1964,3566 2004,3566 1984,3604.9" fill="#008000"/>
<polyline points="818.3,2431.3 861,2348 901.5,2264.8 942,2366 979.2,2210.8 1022,2334.6 1063.6,2375 1105.4,2250 1146,2303 1186,2319 1225,2338 1262.6,2359.3 1307.6,2379.6 1351.3,2372.8 1391.8,2390.8 1432.3,2404.3 1472.8,2426.8 1515.6,2447 1549.3,2532.6 1556,2620 1566,2900 1578,3250 1585,3501.3 1630,3533 1676,3544 1713.5,3545 1751.8,3548 1790,3556 1828,3563 1864,3568 1902,3570 1938,3570 1966,3574 1984,3576" fill="none" stroke="#ff00ff" stroke-width="6" stroke-linejoin="round"/>
<polygon points="836.3,2411.4 836.3,2451.2 800.2,2431.3" fill="#ff00ff"/>
<polygon points="879,2328.1 879,2367.9 843,2348" fill="#ff00ff"/>
<polygon points="919.5,2244.9 919.5,2284.8 883.5,2264.8" fill="#ff00ff"/>
<polygon points="960,2346.1 960,2385.9 924,2366" fill="#ff00ff"/>
<polygon points="997.2,2190.9 997.2,2230.8 961.2,2210.8" fill="#ff00ff"/>
<polygon points="1040,2314.7 1040,2354.5 1004,2334.6" fill="#ff00ff"/>
<polygon points="1081.6,2355.1 1081.6,2394.9 1045.5,2375" fill="#ff00ff"/>
<polygon points="1123.5,2230.1 1123.5,2269.9 1087.4,2250" fill="#ff00ff"/>
<polygon points="1164,2283.1 1164,2322.9 1128,2303" fill="#ff00ff"/>
<polygon points="1204,2299.1 1204,2338.9 1168,2319" fill="#ff00ff"/>
<polygon points="1243,2318.1 1243,2357.9 1207,2338" fill="#ff00ff"/>
<polygon points="1280.6,2339.4 1280.6,2379.2 1244.5,2359.3" fill="#ff00ff"/>
<polygon points="1325.6,2359.7 1325.6,2399.5 1289.5,2379.6" fill="#ff00ff"/>
<polygon points="1369.3,2352.9 1369.3,2392.8 1333.2,2372.8" fill="#ff00ff"/>
<polygon points="1409.8,2370.9 1409.8,2410.8 1373.8,2390.8" fill="#ff00ff"/>
<polygon points="1450.3,2384.4 1450.3,2424.2 1414.2,2404.3" fill="#ff00ff"/>
<polygon points="1490.8,2406.9 1490.8,2446.8 1454.8,2426.8" fill="#ff00ff"/>
<polygon points="1533.6,2427.1 1533.6,2466.9 1497.5,2447" fill="#ff00ff"/>
<polygon points="1567.3,2512.7 1567.3,2552.5 1531.2,2532.6" fill="#ff00ff"/>
<polygon points="1603,3481.4 1603,3521.2 1567,3501.3" fill="#ff00ff"/>
<polygon points="1648,3513.1 1648,3552.9 1612,3533" fill="#ff00ff"/>
<polygon points="1694,3524.1 1694,3563.9 1658,3544" fill="#ff00ff"/>
<polygon points="1731.5,3525.1 1731.5,3564.9 1695.5,3545" fill="#ff00ff"/>
<polygon points="1769.8,3528.1 1769.8,3567.9 1733.8,3548" fill="#ff00ff"/>
<polygon points="1808,3536.1 1808,3575.9 1772,3556" fill="#ff00ff"/>
<polygon points="1846,3543.1 1846,3582.9 1810,3563" fill="#ff00ff"/>
<polygon points="1882,3548.1 1882,3587.9 1846,3568" fill="#ff00ff"/>
<polygon points="1920,3550.1 1920,3589.9 1884,3570" fill="#ff00ff"/>
<polygon points="1956,3550.1 1956,3589.9 1920,3570" fill="#ff00ff"/>
<polygon points="1984,3554.1 1984,3593.9 1948,3574" fill="#ff00ff"/>
<polygon points="2002,3556.1 2002,3595.9 1966,3576" fill="#ff00ff"/>
<polyline points="1023,2377.3 1061.3,2312 1087,2336.8 1125.3,2336.8 1161.3,2341.3 1201.8,2309.8 1240,2276 1291.8,2303 1336.8,2289.5 1371.5,2309.8 1409.8,2327.8 1445.8,2334.6 1480.7,2348 1515.6,2361.6 1551.6,2366 1587.6,2388.6 1628,2398 1670.6,2435.8 1707.8,2476.4 1712,2560 1720,2800 1732,3200 1740,3494 1765,3540 1801,3552 1837,3558 1871,3565 1903,3570 1935,3572 1965,3574 1984,3576" fill="none" stroke="#808000" stroke-width="6" stroke-linejoin="round"/>
<polygon points="1005,2355.5 1005,2399.2 1041,2377.3" fill="#808000"/>
<polygon points="1043.2,2290.2 1043.2,2333.8 1079.3,2312" fill="#808000"/>
<polygon points="1069,2315 1069,2358.7 1105,2336.8" fill="#808000"/>
<polygon points="1107.2,2315 1107.2,2358.7 1143.3,2336.8" fill="#808000"/>
<polygon points="1143.2,2319.5 1143.2,2363.2 1179.3,2341.3" fill="#808000"/>
<polygon points="1183.8,2288 1183.8,2331.7 1219.8,2309.8" fill="#808000"/>
<polygon points="1222,2254.2 1222,2297.8 1258,2276" fill="#808000"/>
<polygon points="1273.8,2281.2 1273.8,2324.8 1309.8,2303" fill="#808000"/>
<polygon points="1318.8,2267.7 1318.8,2311.3 1354.8,2289.5" fill="#808000"/>
<polygon points="1353.5,2288 1353.5,2331.7 1389.5,2309.8" fill="#808000"/>
<polygon points="1391.8,2306 1391.8,2349.7 1427.8,2327.8" fill="#808000"/>
<polygon points="1427.8,2312.8 1427.8,2356.4 1463.8,2334.6" fill="#808000"/>
<polygon points="1462.7,2326.2 1462.7,2369.8 1498.8,2348" fill="#808000"/>
<polygon points="1497.5,2339.8 1497.5,2383.4 1533.6,2361.6" fill="#808000"/>
<polygon points="1533.5,2344.2 1533.5,2387.8 1569.6,2366" fill="#808000"/>
<polygon points="1569.5,2366.8 1569.5,2410.4 1605.6,2388.6" fill="#808000"/>
<polygon points="1610,2376.2 1610,2419.8 1646,2398" fill="#808000"/>
<polygon points="1652.5,2414 1652.5,2457.7 1688.6,2435.8" fill="#808000"/>
<polygon points="1689.8,2454.6 1689.8,2498.2 1725.8,2476.4" fill="#808000"/>
<polygon points="1722,3472.2 1722,3515.8 1758,3494" fill="#808000"/>
<polygon points="1747,3518.2 1747,3561.8 1783,3540" fill="#808000"/>
<polygon points="1783,3530.2 1783,3573.8 1819,3552" fill="#808000"/>
<polygon points="1819,3536.2 1819,3579.8 1855,3558" fill="#808000"/>
<polygon points="1853,3543.2 1853,3586.8 1889,3565" fill="#808000"/>
<polygon points="1885,3548.2 1885,3591.8 1921,3570" fill="#808000"/>
<polygon points="1917,3550.2 1917,3593.8 1953,3572" fill="#808000"/>
<polygon points="1947,3552.2 1947,3595.8 1983,3574" fill="#808000"/>
<polygon points="1966,3554.2 1966,3597.8 2002,3576" fill="#808000"/>
<polyline points="1189,2361.6 1222.8,2352.6 1255.8,2336.8 1285,2267 1318.8,2330 1349,2294 1380.5,2334.6 1414.3,2316.6 1446.9,2303 1478.4,2296.3 1511,2307.6 1542.6,2303 1574,2330 1605.6,2325.6 1638,2339 1668.4,2348 1702.2,2359.3 1734.8,2368.3 1766.3,2390.8 1799,2426.8 1830.4,2541.6 1835,2620 1845,2900 1855,3250 1861,3504 1895.8,3541.5 1927.3,3546 1958.8,3546 1983.6,3555" fill="none" stroke="#000080" stroke-width="6" stroke-linejoin="round"/>
<polygon points="1189,2340.7 1210.8,2361.6 1189,2382.5 1167.2,2361.6" fill="#000080"/>
<polygon points="1222.8,2331.7 1244.6,2352.6 1222.8,2373.5 1201,2352.6" fill="#000080"/>
<polygon points="1255.8,2315.9 1277.6,2336.8 1255.8,2357.7 1234,2336.8" fill="#000080"/>
<polygon points="1285,2246.1 1306.8,2267 1285,2287.9 1263.2,2267" fill="#000080"/>
<polygon points="1318.8,2309.1 1340.6,2330 1318.8,2350.9 1297,2330" fill="#000080"/>
<polygon points="1349,2273.1 1370.8,2294 1349,2314.9 1327.2,2294" fill="#000080"/>
<polygon points="1380.5,2313.7 1402.3,2334.6 1380.5,2355.5 1358.7,2334.6" fill="#000080"/>
<polygon points="1414.3,2295.7 1436.1,2316.6 1414.3,2337.5 1392.5,2316.6" fill="#000080"/>
<polygon points="1446.9,2282.1 1468.8,2303 1446.9,2323.9 1425.1,2303" fill="#000080"/>
<polygon points="1478.4,2275.4 1500.2,2296.3 1478.4,2317.2 1456.6,2296.3" fill="#000080"/>
<polygon points="1511,2286.7 1532.8,2307.6 1511,2328.5 1489.2,2307.6" fill="#000080"/>
<polygon points="1542.6,2282.1 1564.4,2303 1542.6,2323.9 1520.8,2303" fill="#000080"/>
<polygon points="1574,2309.1 1595.8,2330 1574,2350.9 1552.2,2330" fill="#000080"/>
<polygon points="1605.6,2304.7 1627.4,2325.6 1605.6,2346.5 1583.8,2325.6" fill="#000080"/>
<polygon points="1638,2318.1 1659.8,2339 1638,2359.9 1616.2,2339" fill="#000080"/>
<polygon points="1668.4,2327.1 1690.2,2348 1668.4,2368.9 1646.6,2348" fill="#000080"/>
<polygon points="1702.2,2338.4 1724,2359.3 1702.2,2380.2 1680.4,2359.3" fill="#000080"/>
<polygon points="1734.8,2347.4 1756.6,2368.3 1734.8,2389.2 1713,2368.3" fill="#000080"/>
<polygon points="1766.3,2369.9 1788.1,2390.8 1766.3,2411.7 1744.5,2390.8" fill="#000080"/>
<polygon points="1799,2405.9 1820.8,2426.8 1799,2447.7 1777.2,2426.8" fill="#000080"/>
<polygon points="1830.4,2520.7 1852.2,2541.6 1830.4,2562.5 1808.6,2541.6" fill="#000080"/>
<polygon points="1861,3483.1 1882.8,3504 1861,3524.9 1839.2,3504" fill="#000080"/>
<polygon points="1895.8,3520.6 1917.6,3541.5 1895.8,3562.4 1874,3541.5" fill="#000080"/>
<polygon points="1927.3,3525.1 1949.1,3546 1927.3,3566.9 1905.5,3546" fill="#000080"/>
<polygon points="1958.8,3525.1 1980.6,3546 1958.8,3566.9 1937,3546" fill="#000080"/>
<polygon points="1983.6,3534.1 2005.4,3555 1983.6,3575.9 1961.8,3555" fill="#000080"/>
</g>
<path d="M583.5 2818.8H726" stroke="#ff0000" stroke-width="14"/>
<ellipse cx="654.5" cy="2818.8" rx="13.7" ry="19" fill="#ff0000"/>
<text transform="translate(740.5 2838.6) scale(0.9450 1)" font-family="'Liberation Serif', 'Times New Roman', serif" font-size="88" font-weight="normal" text-anchor="start">0.3 kV/mm</text>
<path d="M583.5 2929.9H726" stroke="#0000ff" stroke-width="14"/>
<polygon points="638.1,2945.4 670.9,2945.4 654.5,2904.4" fill="#0000ff"/>
<text transform="translate(740.5 2949.7) scale(0.9450 1)" font-family="'Liberation Serif', 'Times New Roman', serif" font-size="88" font-weight="normal" text-anchor="start">0.6</text>
<path d="M583.5 3041H726" stroke="#008000" stroke-width="14"/>
<polygon points="638.1,3028 670.9,3028 654.5,3069" fill="#008000"/>
<text transform="translate(740.5 3060.8) scale(0.9450 1)" font-family="'Liberation Serif', 'Times New Roman', serif" font-size="88" font-weight="normal" text-anchor="start">0.9</text>
<path d="M583.5 3152.1H726" stroke="#ff00ff" stroke-width="14"/>
<polygon points="669.3,3131.1 669.3,3173.1 639.7,3152.1" fill="#ff00ff"/>
<text transform="translate(740.5 3171.9) scale(0.9450 1)" font-family="'Liberation Serif', 'Times New Roman', serif" font-size="88" font-weight="normal" text-anchor="start">1.2</text>
<path d="M583.5 3263.2H726" stroke="#808000" stroke-width="14"/>
<polygon points="639.7,3238.2 639.7,3284.2 669.3,3261.2" fill="#808000"/>
<text transform="translate(740.5 3283) scale(0.9450 1)" font-family="'Liberation Serif', 'Times New Roman', serif" font-size="88" font-weight="normal" text-anchor="start">1.5</text>
<path d="M583.5 3374.3H726" stroke="#000080" stroke-width="14"/>
<polygon points="654.5,3352.3 672.4,3374.3 654.5,3396.3 636.6,3374.3" fill="#000080"/>
<text transform="translate(740.5 3394.1) scale(0.9450 1)" font-family="'Liberation Serif', 'Times New Roman', serif" font-size="88" font-weight="normal" text-anchor="start">1.8</text>
</svg>
</body></html>
